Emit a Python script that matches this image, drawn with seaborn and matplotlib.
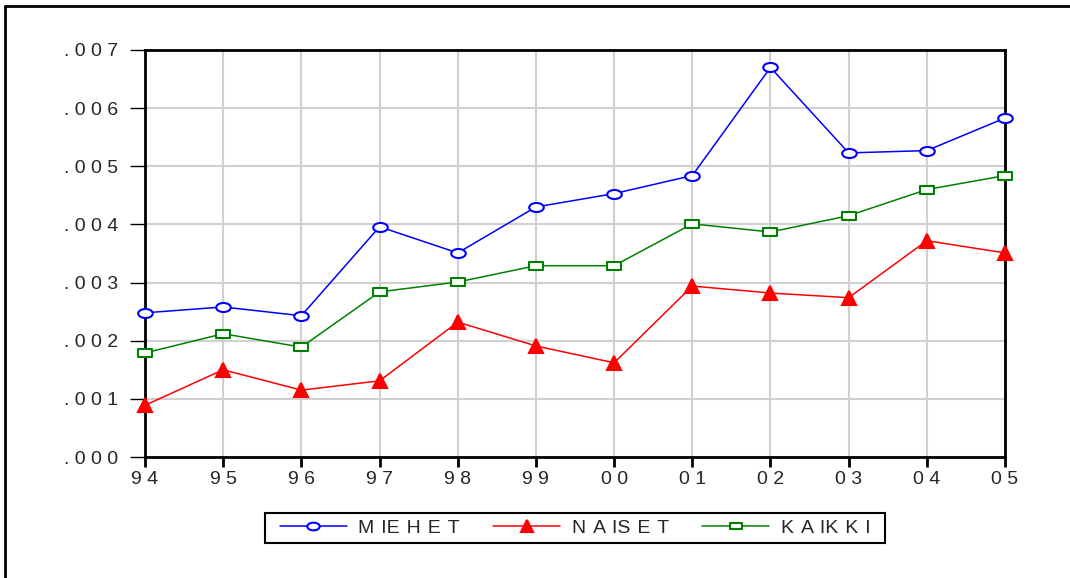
import numpy as np
import pandas as pd
import seaborn as sns
import matplotlib
matplotlib.use("Agg")
import matplotlib.pyplot as plt
from matplotlib.lines import Line2D
from matplotlib.patches import Rectangle
from matplotlib.path import Path
from matplotlib.transforms import Affine2D

# Yearly rates by group
years = ["94", "95", "96", "97", "98", "99", "00", "01", "02", "03", "04", "05"]
miehet = [0.00248, 0.00258, 0.00243, 0.00396, 0.00351, 0.00430, 0.00453, 0.00484, 0.00670, 0.00523, 0.00527, 0.00583]
naiset = [0.00089, 0.00150, 0.00115, 0.00131, 0.00232, 0.00191, 0.00162, 0.00294, 0.00282, 0.00274, 0.00372, 0.00351]
kaikki = [0.00179, 0.00212, 0.00189, 0.00284, 0.00301, 0.00329, 0.00329, 0.00401, 0.00387, 0.00415, 0.00460, 0.00484]
y_ticks = [0.000, 0.001, 0.002, 0.003, 0.004, 0.005, 0.006, 0.007]
legend_groups = [["M", "IE", "H", "E", "T"], ["N", "A", "IS", "E", "T"], ["K", "A", "IK", "K", "I"]]


def spaced(s, gap=" "):
    return gap.join(s)


def decimal_label(v):
    return "." + f"{v:.3f}".split(".")[1]


sns.set_theme(style="white")
plt.rcParams["font.family"] = ["Liberation Sans", "DejaVu Sans"]

W, H = 1070, 578
fig = plt.figure(figsize=(W / 100, H / 100), dpi=100)
ax = fig.add_axes([145 / W, 1 - 457 / H, 860 / W, 407 / H])

# flattened markers (wider than tall)
ellipse = Path.unit_circle().transformed(Affine2D().scale(1.0, 0.62))
flat_square = Path([(-1, -0.58), (1, -0.58), (1, 0.58), (-1, 0.58), (-1, -0.58)],
                   [Path.MOVETO, Path.LINETO, Path.LINETO, Path.LINETO, Path.CLOSEPOLY])

x = np.arange(len(years))
df = pd.DataFrame({"x": x, "MIEHET": miehet, "NAISET": naiset, "KAIKKI": kaikki})

series = [
    ("MIEHET", "#0000ff", ellipse, 10.5, "white"),
    ("NAISET", "#ff0000", "^", 9.5, "#ff0000"),
    ("KAIKKI", "#008000", flat_square, 9.5, "white"),
]
handles = []
for name, color, marker, ms, mfc in series:
    sns.lineplot(data=df, x="x", y=name, ax=ax, color=color, linewidth=1.1,
                 marker=marker, markersize=ms, markerfacecolor=mfc,
                 markeredgecolor=color, markeredgewidth=1.5, clip_on=False,
                 zorder=3)
    handles.append(Line2D([], [], color=color, linewidth=1.1, marker=marker,
                          markersize=ms * 0.85, markerfacecolor=mfc,
                          markeredgecolor=color, markeredgewidth=1.5))

ax.set_xlim(0, len(years) - 1)
ax.set_ylim(0, 0.007)
ax.set_xticks(x)
ax.set_xticklabels([spaced(y) for y in years])
ax.set_yticks(y_ticks)
ax.set_yticklabels([spaced(decimal_label(v)) for v in y_ticks])
ax.set_xlabel("")
ax.set_ylabel("")

ax.grid(True, color="#d0d0d0", linewidth=1.5)
ax.set_axisbelow(True)
for sp in ax.spines.values():
    sp.set_color("black")
    sp.set_linewidth(2)
    sp.set_visible(True)

ax.tick_params(axis="x", direction="out", length=7, width=2, color="black",
               labelsize=14, pad=3, bottom=True)
ax.tick_params(axis="y", direction="out", length=10.5, width=1, color="black",
               labelsize=14, pad=9, left=True)

leg = fig.legend(handles=handles,
                 labels=[spaced(g, " \u200a") for g in legend_groups],
                 loc="center", bbox_to_anchor=(575 / W, 1 - 528 / H),
                 ncol=3, frameon=False,
                 fontsize=14, handlelength=3.45, columnspacing=1.7,
                 handletextpad=0.6, borderpad=0.0)

# box around the legend, with wider side padding than top/bottom
fig.canvas.draw()
bb = leg.get_window_extent()
pad_x, top, bottom = 15, 513, 543
fig.add_artist(Rectangle(((bb.x0 - pad_x) / W, 1 - bottom / H),
                         (bb.width + 2 * pad_x) / W, (bottom - top) / H,
                         transform=fig.transFigure, fill=False,
                         edgecolor="black", linewidth=1.5))

# outer frame lines
fig.add_artist(Line2D([5 / W, 1.0], [1 - 6 / H, 1 - 6 / H], color="black", linewidth=2,
                      transform=fig.transFigure))
fig.add_artist(Line2D([5 / W, 5 / W], [0.0, 1 - 6 / H], color="black", linewidth=2,
                      transform=fig.transFigure))

fig.savefig("out.png", dpi=100, facecolor="white")
